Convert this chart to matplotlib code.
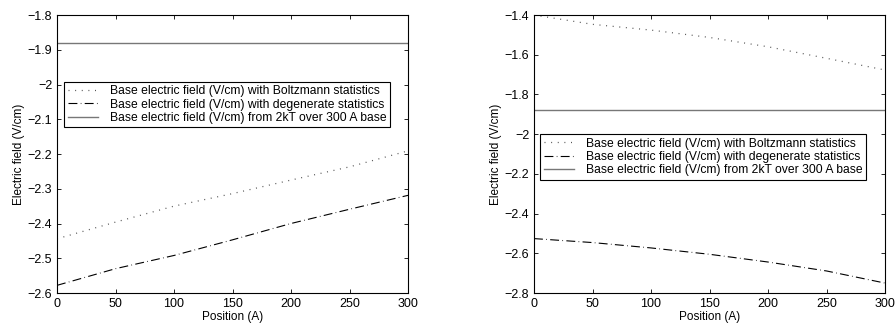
import matplotlib
matplotlib.use('Agg')
import matplotlib.pyplot as plt

plt.rcParams['font.family'] = ['Liberation Sans', 'DejaVu Sans']
plt.rcParams['font.size'] = 9

# positions (A)
position = [0, 50, 100, 150, 200, 250, 300]

# left panel
left_boltz = [-2.444, -2.396, -2.350, -2.314, -2.275, -2.237, -2.191]
left_degen = [-2.578, -2.530, -2.492, -2.447, -2.400, -2.359, -2.319]
left_2kt = -1.88

# right panel
right_boltz = [-1.400, -1.447, -1.476, -1.513, -1.560, -1.618, -1.677]
right_degen = [-2.526, -2.546, -2.573, -2.605, -2.644, -2.689, -2.750]
right_2kt = -1.88

labels = ['Base electric field (V/cm) with Boltzmann statistics',
          'Base electric field (V/cm) with degenerate statistics',
          'Base electric field (V/cm) from 2kT over 300 A base']

fig = plt.figure(figsize=(8.96, 3.31), dpi=100)
ax1 = fig.add_axes([57/896, 1 - 293/331, 351/896, 278/331])
ax2 = fig.add_axes([534/896, 1 - 293/331, 351/896, 278/331])


def panel(ax, boltz, degen, flat, ylim, yticks, ytl, leg_anchor):
    ax.plot(position, boltz, color='#555555', lw=0.9, ls=(0, (0.8, 4.5)),
            label=labels[0])
    ax.plot(position, degen, color='black', lw=0.8, ls=(0, (8, 3, 0.6, 3)),
            label=labels[1])
    ax.plot([position[0], position[-1]], [flat, flat], color='#777777',
            lw=1.0, label=labels[2])
    ax.set_xlim(0, 300)
    ax.set_ylim(*ylim)
    ax.set_xticks(position)
    ax.set_yticks(yticks)
    ax.set_yticklabels(ytl)
    ax.tick_params(direction='in', top=True, right=True, length=3, width=0.6,
                   labelsize=9)
    for s in ax.spines.values():
        s.set_linewidth(0.8)
    ax.set_xlabel('Position (A)', labelpad=1, fontsize=8.5)
    ax.set_ylabel('Electric field (V/cm)', labelpad=2, fontsize=8.5)
    leg = ax.legend(loc='upper left', bbox_to_anchor=leg_anchor,
                    fancybox=False, edgecolor='black', framealpha=1,
                    handlelength=2.5, borderpad=0.3, labelspacing=0.1,
                    borderaxespad=0, handletextpad=1.0, fontsize=8.7)
    leg.get_frame().set_linewidth(0.8)


def fmt(v):
    s = ('%g' % v).replace('-', '\u2212')
    return s


lt = [-2.6, -2.5, -2.4, -2.3, -2.2, -2.1, -2.0, -1.9, -1.8]
rt = [-2.8, -2.6, -2.4, -2.2, -2.0, -1.8, -1.6, -1.4]
panel(ax1, left_boltz, left_degen, left_2kt, (-2.6, -1.8), lt,
      [fmt(v) for v in lt], (0.02, 0.76))
panel(ax2, right_boltz, right_degen, right_2kt, (-2.8, -1.4), rt,
      [fmt(v) for v in rt], (0.017, 0.572))

fig.savefig('out.png', dpi=100)
